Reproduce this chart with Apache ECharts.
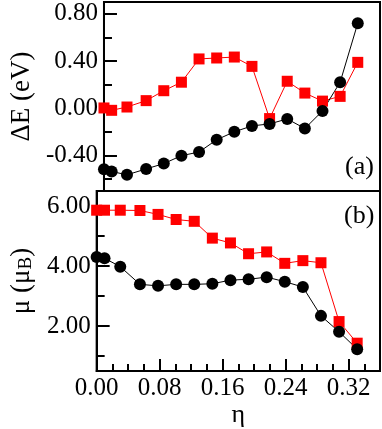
<!DOCTYPE html>
<html>
<head>
<meta charset="utf-8">
<script src="https://cdn.jsdelivr.net/npm/echarts@6/dist/echarts.min.js"></script>
<style>
  html, body { margin: 0; padding: 0; background: #fff; }
  #chart { width: 382px; height: 429px; }
</style>
</head>
<body>
<div id="chart"></div>
<script>
// eta values (shared x)
var eta = [0, 0.010, 0.030, 0.055, 0.078, 0.101, 0.124, 0.147, 0.170, 0.193, 0.216, 0.239, 0.262, 0.285, 0.308, 0.331];

// panel (a): energy difference, eV
var dE_black = [-0.515, -0.535, -0.563, -0.513, -0.468, -0.401, -0.370, -0.266, -0.199, -0.149, -0.132, -0.090, -0.171, -0.022, 0.221, 0.720];
var dE_red = [0.003, -0.017, 0.011, 0.065, 0.149, 0.221, 0.418, 0.426, 0.434, 0.355, -0.087, 0.229, 0.129, 0.061, 0.101, 0.389];

// panel (b): magnetic moment, mu_B
var mu_black = [4.30, 4.26, 3.98, 3.39, 3.34, 3.39, 3.39, 3.41, 3.53, 3.56, 3.63, 3.48, 3.30, 2.34, 1.81, 1.23];
var mu_red = [5.86, 5.86, 5.86, 5.85, 5.72, 5.55, 5.49, 4.93, 4.77, 4.41, 4.47, 4.09, 4.18, 4.11, 2.15, 1.43];

// ticks
var xMajor = [0, 0.08, 0.16, 0.24, 0.32];
var xMinor = [0.02, 0.04, 0.06, 0.10, 0.12, 0.14, 0.18, 0.20, 0.22, 0.26, 0.28, 0.30, 0.34];
var yTopMajor = [-0.4, 0, 0.4, 0.8];
var yTopMinor = [-0.6, -0.2, 0.2, 0.6];
var yBotMajor = [2, 4, 6];
var yBotMinor = [1, 3, 5];

function pairs(xs, ys) {
    return xs.map(function (x, i) { return [x, ys[i]] })
}

var font = "'Liberation Serif', 'Times New Roman', serif"
var chart = echarts.init(document.getElementById('chart'))

// hidden helper axis, only draws the minor ticks
function minorAxis(kind, grid, min, max, vals, len) {
    var ax = {
        type: 'value', gridIndex: grid, min: min, max: max,
        axisLine: { show: false },
        axisLabel: { show: false },
        splitLine: { show: false },
        axisTick: { show: true, inside: true, length: len, customValues: vals, lineStyle: { color: '#000', width: 2 } }
    }
    ax.position = kind === 'y' ? 'left' : 'bottom'
    return ax
}

var option = {
    animation: false,
    backgroundColor: '#fff',
    textStyle: { fontFamily: font },
    grid: [
        { left: 88, top: 2, width: 292, height: 189, show: true, borderColor: '#000', borderWidth: 2 },
        { left: 88, top: 191, width: 292, height: 187, show: true, borderColor: '#000', borderWidth: 2 }
    ],
    xAxis: [
        { type: 'value', gridIndex: 0, min: 0, max: 0.36, show: false },
        {
            type: 'value', gridIndex: 1, min: 0, max: 0.36,
            name: 'η', nameLocation: 'middle', nameGap: 22,
            nameTextStyle: { fontFamily: font, fontSize: 26, color: '#000' },
            axisLine: { show: true, lineStyle: { color: '#000', width: 2 } },
            axisTick: { show: true, inside: true, length: 12, customValues: xMajor, lineStyle: { color: '#000', width: 2 } },
            axisLabel: {
                customValues: xMajor, margin: 5, color: '#000', fontFamily: font, fontSize: 25,
                formatter: function (v) { return v.toFixed(2) }
            },
            splitLine: { show: false }
        },
        minorAxis('x', 1, 0, 0.36, xMinor, 7)
    ],
    yAxis: [
        {
            type: 'value', gridIndex: 0, min: -0.7, max: 0.9,
            name: 'ΔE (eV)', nameLocation: 'middle', nameGap: 52,
            nameTextStyle: { fontFamily: font, fontSize: 27, color: '#000' },
            axisLine: { show: true, lineStyle: { color: '#000', width: 2 } },
            axisTick: { show: true, inside: true, length: 13, customValues: yTopMajor, lineStyle: { color: '#000', width: 2 } },
            axisLabel: {
                customValues: yTopMajor, margin: 6, color: '#000', fontFamily: font, fontSize: 25,
                formatter: function (v) { return v.toFixed(2) }
            },
            splitLine: { show: false }
        },
        {
            type: 'value', gridIndex: 1, min: 0.5, max: 6.5,
            name: 'μ (μ{sub|B})', nameLocation: 'middle', nameGap: 50,
            nameTextStyle: {
                fontFamily: font, fontSize: 27, color: '#000',
                rich: { sub: { fontFamily: font, fontSize: 19, color: '#000', verticalAlign: 'bottom', padding: [10, 0, 0, 0] } }
            },
            axisLine: { show: true, lineStyle: { color: '#000', width: 2 } },
            axisTick: { show: true, inside: true, length: 13, customValues: yBotMajor, lineStyle: { color: '#000', width: 2 } },
            axisLabel: {
                customValues: yBotMajor, margin: 6, color: '#000', fontFamily: font, fontSize: 25,
                formatter: function (v) { return v.toFixed(2) }
            },
            splitLine: { show: false }
        },
        minorAxis('y', 0, -0.7, 0.9, yTopMinor, 8),
        minorAxis('y', 1, 0.5, 6.5, yBotMinor, 8)
    ],
    graphic: [
        { type: 'text', left: 345, top: 154, style: { text: '(a)', font: '26px ' + font, fill: '#000' } },
        { type: 'text', left: 344, top: 203, style: { text: '(b)', font: '26px ' + font, fill: '#000' } }
    ],
    series: [
        {
            type: 'line', xAxisIndex: 0, yAxisIndex: 0, data: pairs(eta, dE_red),
            symbol: 'rect', symbolSize: 11, itemStyle: { color: '#ff0000' },
            lineStyle: { color: '#ff0000', width: 1 }
        },
        {
            type: 'line', xAxisIndex: 0, yAxisIndex: 0, data: pairs(eta, dE_black),
            symbol: 'circle', symbolSize: 12, itemStyle: { color: '#000' },
            lineStyle: { color: '#000', width: 1 }
        },
        {
            type: 'line', xAxisIndex: 1, yAxisIndex: 1, data: pairs(eta, mu_red),
            symbol: 'rect', symbolSize: 11, itemStyle: { color: '#ff0000' },
            lineStyle: { color: '#ff0000', width: 1 }
        },
        {
            type: 'line', xAxisIndex: 1, yAxisIndex: 1, data: pairs(eta, mu_black),
            symbol: 'circle', symbolSize: 12, itemStyle: { color: '#000' },
            lineStyle: { color: '#000', width: 1 }
        }
    ]
}

chart.setOption(option)
</script>
</body>
</html>
